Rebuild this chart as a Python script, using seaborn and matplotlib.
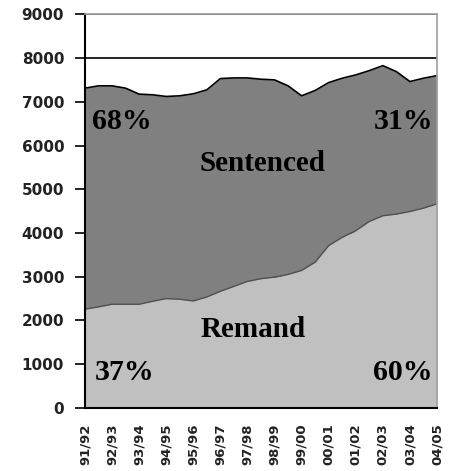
import numpy as np
import pandas as pd
import matplotlib
matplotlib.use("Agg")
import matplotlib.pyplot as plt
import seaborn as sns

# Financial-year tick labels
years = ["91/92", "92/93", "93/94", "94/95", "95/96", "96/97", "97/98",
         "98/99", "99/00", "00/01", "01/02", "02/03", "03/04", "04/05"]

# Half-yearly readings (two per year, last at 04/05)
total = [7311, 7364, 7364, 7311, 7174, 7159, 7121, 7136, 7182, 7273,
         7530, 7545, 7545, 7515, 7500, 7364, 7136, 7258, 7439, 7538,
         7614, 7712, 7826, 7689, 7462, 7538, 7598]
remand = [2258, 2311, 2371, 2371, 2371, 2439, 2500, 2485, 2447, 2538,
          2667, 2780, 2894, 2955, 2992, 3053, 3144, 3333, 3712, 3902,
          4053, 4265, 4394, 4432, 4492, 4568, 4667]

sns.set_theme(style="white")
plt.rcParams['font.family'] = ['DejaVu Sans']

df = pd.DataFrame({"t": np.arange(len(total)) / 2.0,
                   "total": total, "remand": remand})

fig = plt.figure(figsize=(4.53, 4.71), dpi=100)
ax = fig.add_axes([0.1876, 0.1338, 0.9647 - 0.1876, 0.9697 - 0.1338])

ax.fill_between(df["t"], 0, df["remand"], color="#c0c0c0", zorder=2, lw=0)
ax.fill_between(df["t"], df["remand"], df["total"], color="#808080", zorder=2, lw=0)
sns.lineplot(data=df, x="t", y="total", ax=ax, color="black", lw=1.2, zorder=3)
sns.lineplot(data=df, x="t", y="remand", ax=ax, color="#505050", lw=1.0,
             zorder=3)

ax.set_xlim(0, len(years) - 1)
ax.set_ylim(0, 9000)
ax.set_yticks(np.arange(0, 9001, 1000))
ax.set_xticks(np.arange(len(years)))
ax.set_xticklabels(years, rotation=90, fontsize=9.5, fontweight="bold",
                   color="#222222")
ax.set_yticklabels([str(v) for v in range(0, 9001, 1000)], fontsize=11,
                   fontweight="bold", color="#222222")
ax.set_xlabel("")
ax.set_ylabel("")

ax.yaxis.grid(True, color="black", lw=1.2, zorder=1)
ax.set_axisbelow(True)
ax.tick_params(axis="y", length=7, width=1.2, color="black", pad=8, left=True)
ax.tick_params(axis="x", length=0, pad=11)

for s in ["left", "bottom"]:
    ax.spines[s].set_color("black")
    ax.spines[s].set_linewidth(1.5)
    ax.spines[s].set_zorder(4)
for s in ["top", "right"]:
    ax.spines[s].set_color("#a0a0a0")
    ax.spines[s].set_linewidth(1.2)
    ax.spines[s].set_zorder(4)

tfont = dict(family="Liberation Serif", fontweight="bold", color="black", zorder=5)
ax.text(0.26, 6560, "68%", ha="left", va="center", fontsize=21.5, **tfont)
ax.text(12.85, 6560, "31%", ha="right", va="center", fontsize=21.5, **tfont)
ax.text(6.57, 5600, "Sentenced", ha="center", va="center", fontsize=21, **tfont)
ax.text(6.2, 1783, "Remand", ha="center", va="center", fontsize=21, **tfont)
ax.text(0.37, 800, "37%", ha="left", va="center", fontsize=21.5, **tfont)
ax.text(12.85, 800, "60%", ha="right", va="center", fontsize=21.5, **tfont)

fig.savefig("out.png", dpi=100)
